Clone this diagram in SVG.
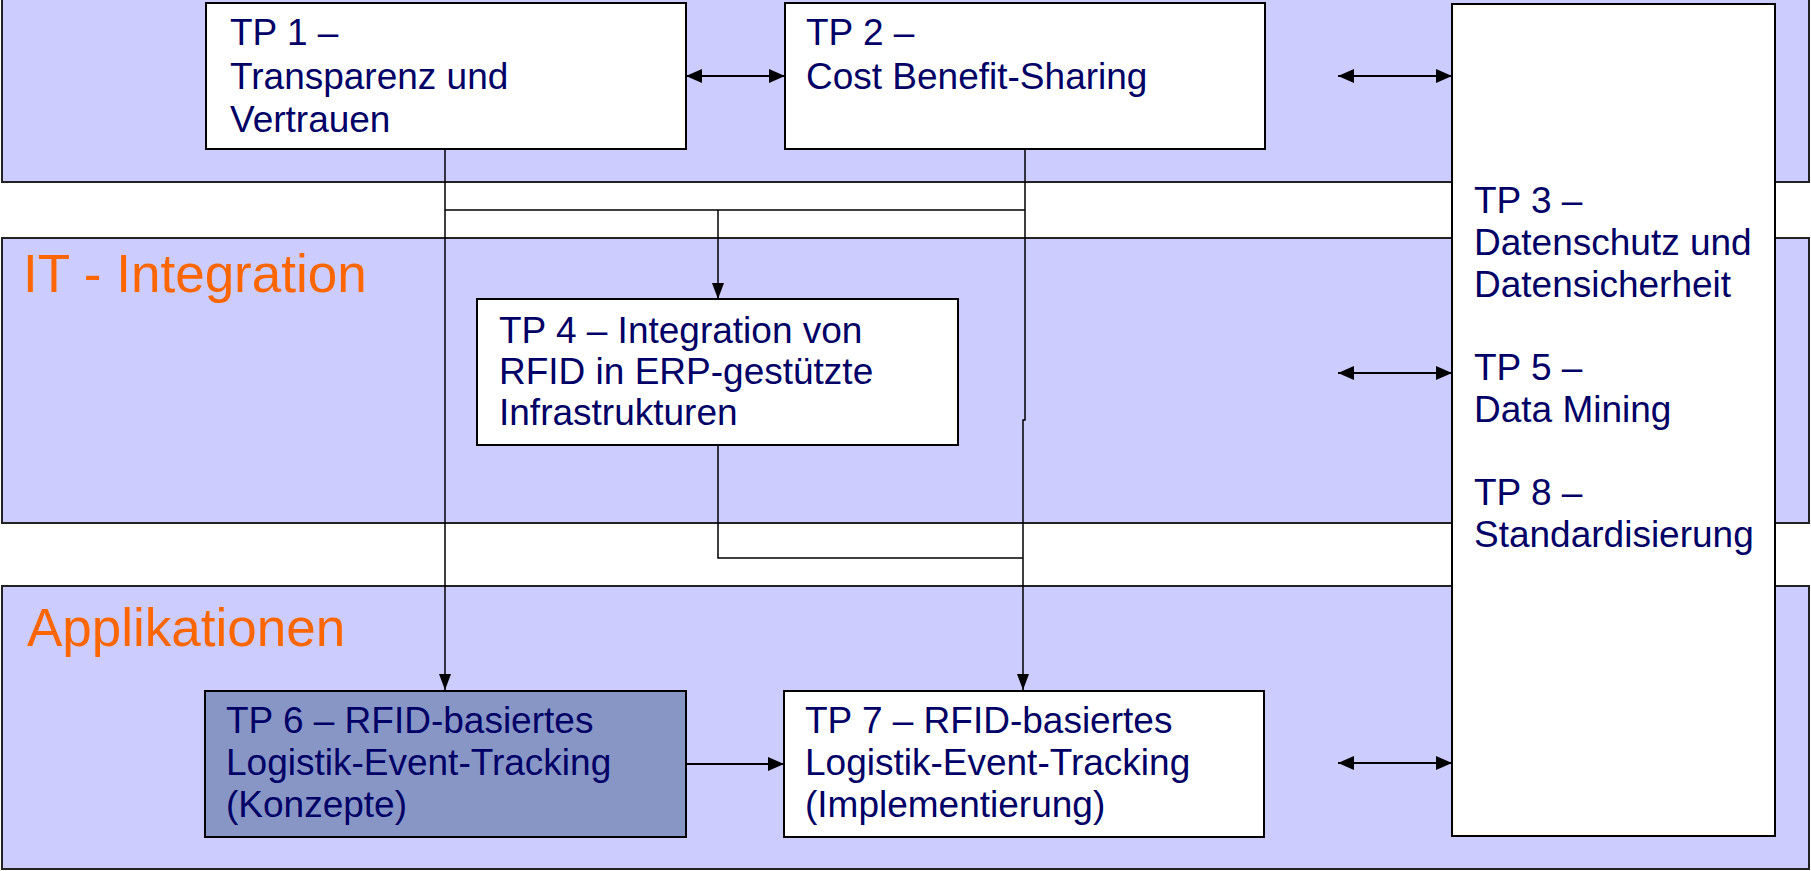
<svg xmlns="http://www.w3.org/2000/svg" width="1811" height="871" viewBox="0 0 1811 871">
  <style>
    .band { fill: #CCCCFF; stroke: #222222; stroke-width: 2; }
    .box { fill: #FFFFFF; stroke: #000000; stroke-width: 2; }
    .box-dark { fill: #8896C6; stroke: #000000; stroke-width: 2; }
    .t { font-family: "Liberation Sans", Arial, sans-serif; font-size: 37px; fill: #000066; }
    .band-label { font-family: "Liberation Sans", Arial, sans-serif; font-size: 53px; fill: #FF6600; }
    .conn { fill: none; stroke: #000000; stroke-width: 1.5; }
    .dbl { fill: none; stroke: #000000; stroke-width: 2.2; }
  </style>
  <defs>
    <marker id="arrow" viewBox="0 0 16 12" refX="16" refY="6" markerWidth="16" markerHeight="12" markerUnits="userSpaceOnUse" orient="auto-start-reverse">
      <path d="M0,0 L16,6 L0,12 z" fill="#000000"/>
    </marker>
    <marker id="arrow-wide" viewBox="0 0 16 14" refX="16" refY="7" markerWidth="16" markerHeight="14" markerUnits="userSpaceOnUse" orient="auto-start-reverse">
      <path d="M0,0 L16,7 L0,14 z" fill="#000000"/>
    </marker>
  </defs>

  <rect width="1811" height="871" fill="#FFFFFF"/>

  <!-- horizontal layers -->
  <g id="layer-top">
    <rect class="band" x="2" y="-10" width="1807" height="192"/>
  </g>
  <g id="layer-it">
    <rect class="band" x="2" y="238" width="1807" height="285"/>
    <text class="band-label" x="23" y="292">IT - Integration</text>
  </g>
  <g id="layer-apps">
    <rect class="band" x="2" y="586" width="1807" height="283"/>
    <text class="band-label" x="27" y="646">Applikationen</text>
  </g>

  <!-- connectors -->
  <g id="connectors">
    <path class="conn" d="M445,149 V690" marker-end="url(#arrow)"/>
    <path class="conn" d="M445,210 H1025"/>
    <path class="conn" d="M718,210 V299" marker-end="url(#arrow)"/>
    <path class="conn" d="M1025,149 V420 H1023 V690" marker-end="url(#arrow)"/>
    <path class="conn" d="M718,445 V558 H1023"/>
    <path class="dbl" d="M686,76 H785" marker-start="url(#arrow-wide)" marker-end="url(#arrow-wide)"/>
    <path class="dbl" d="M1338,76 H1452" marker-start="url(#arrow-wide)" marker-end="url(#arrow-wide)"/>
    <path class="dbl" d="M1338,373 H1452" marker-start="url(#arrow-wide)" marker-end="url(#arrow-wide)"/>
    <path class="dbl" d="M1338,763 H1452" marker-start="url(#arrow-wide)" marker-end="url(#arrow-wide)"/>
    <path class="dbl" d="M686,764 H784" marker-end="url(#arrow-wide)"/>
  </g>

  <!-- sub-projects -->
  <g id="tp1">
    <rect class="box" x="206" y="3" width="480" height="146"/>
    <text class="t" x="230" y="45">TP 1 –</text>
    <text class="t" x="230" y="89">Transparenz und</text>
    <text class="t" x="230" y="132">Vertrauen</text>
  </g>
  <g id="tp2">
    <rect class="box" x="785" y="3" width="480" height="146"/>
    <text class="t" x="806" y="45">TP 2 –</text>
    <text class="t" x="806" y="89">Cost Benefit-Sharing</text>
  </g>
  <g id="tp3-5-8">
    <rect class="box" x="1452" y="4" width="323" height="832"/>
    <text class="t" x="1474" y="213">TP 3 –</text>
    <text class="t" x="1474" y="255">Datenschutz und</text>
    <text class="t" x="1474" y="297">Datensicherheit</text>
    <text class="t" x="1474" y="380">TP 5 –</text>
    <text class="t" x="1474" y="422">Data Mining</text>
    <text class="t" x="1474" y="505">TP 8 –</text>
    <text class="t" x="1474" y="547">Standardisierung</text>
  </g>
  <g id="tp4">
    <rect class="box" x="477" y="299" width="481" height="146"/>
    <text class="t" x="499" y="343">TP 4 – Integration von</text>
    <text class="t" x="499" y="384">RFID in ERP-gestützte</text>
    <text class="t" x="499" y="425">Infrastrukturen</text>
  </g>
  <g id="tp6">
    <rect class="box-dark" x="205" y="691" width="481" height="146"/>
    <text class="t" x="226" y="733">TP 6 – RFID-basiertes</text>
    <text class="t" x="226" y="775">Logistik-Event-Tracking</text>
    <text class="t" x="226" y="817">(Konzepte)</text>
  </g>
  <g id="tp7">
    <rect class="box" x="784" y="691" width="480" height="146"/>
    <text class="t" x="805" y="733">TP 7 – RFID-basiertes</text>
    <text class="t" x="805" y="775">Logistik-Event-Tracking</text>
    <text class="t" x="805" y="817">(Implementierung)</text>
  </g>
</svg>
